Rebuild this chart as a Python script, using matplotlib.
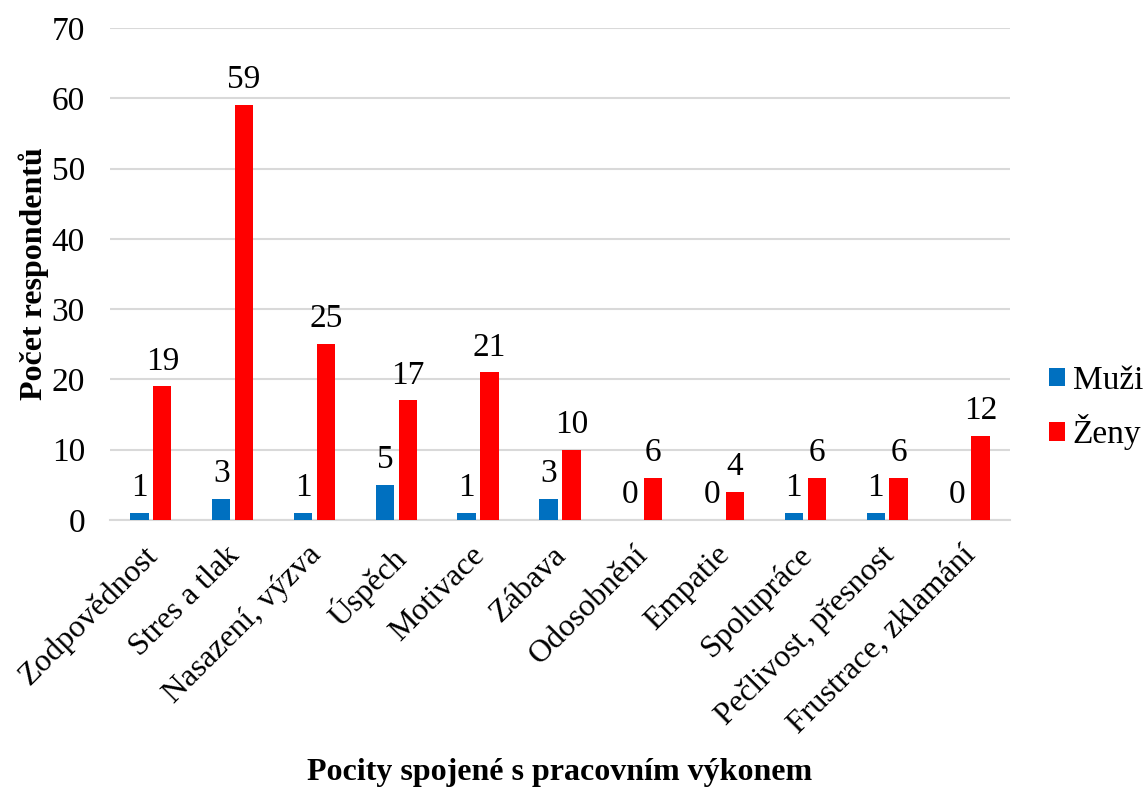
import numpy as np
import matplotlib.pyplot as plt
import matplotlib.transforms as mtransforms

plt.rcParams['font.family'] = ['Liberation Serif', 'DejaVu Serif']

categories = ['Zodpovědnost', 'Stres a tlak', 'Nasazení, výzva', 'Úspěch', 'Motivace',
              'Zábava', 'Odosobnění', 'Empatie', 'Spolupráce', 'Pečlivost, přesnost',
              'Frustrace, zklamání']
muzi = [1, 3, 1, 5, 1, 3, 0, 0, 1, 1, 0]
zeny = [19, 59, 25, 17, 21, 10, 6, 4, 6, 6, 12]

fig = plt.figure(figsize=(11.45, 7.89), dpi=100)
ax = fig.add_axes([0.096, 0.341, 0.786, 0.6235])

x = np.arange(len(categories))
w = 0.225
off = 0.14
b1 = ax.bar(x - off, muzi, w, color='#0070C0', label='Muži', zorder=3)
b2 = ax.bar(x + off, zeny, w, color='#FF0000', label='Ženy', zorder=3)

# value labels above each bar
for bars, vals in ((b1, muzi), (b2, zeny)):
    for r, v in zip(bars, vals):
        ax.text(r.get_x() + r.get_width() / 2, v + 2.4, str(v), ha='center',
                va='baseline', fontsize=24)

ax.set_xlim(-0.5, len(categories) - 0.5)
ax.set_ylim(0, 70)
ax.set_yticks(range(0, 71, 10))
ax.yaxis.grid(True, color='#d9d9d9', linewidth=1.5, zorder=0)
ax.set_axisbelow(True)
for s in ['top', 'right', 'left']:
    ax.spines[s].set_visible(False)
ax.spines['bottom'].set_color('#d9d9d9')
ax.spines['bottom'].set_linewidth(1.5)
ax.tick_params(axis='both', length=0)
ax.tick_params(axis='y', labelsize=24, pad=18)
ax.tick_params(axis='x', labelsize=23, pad=4)
ax.set_xticks(x)
ax.set_xticklabels(categories, rotation=45, ha='right', rotation_mode='anchor')
shift = mtransforms.ScaledTranslation(-0.08, -0.15, fig.dpi_scale_trans)
for lbl in ax.get_xticklabels():
    lbl.set_transform(lbl.get_transform() + shift)

ax.set_ylabel('Počet respondentů', fontsize=23, fontweight='bold', labelpad=2)
ax.set_xlabel('Pocity spojené s pracovním výkonem', fontsize=23, fontweight='bold',
              va='center')
ax.xaxis.set_label_coords(0.5, -0.514)

ax.legend(loc='center left', bbox_to_anchor=(1.043, 0.228), frameon=False, fontsize=24,
          borderaxespad=0, borderpad=0, handlelength=0.48, handleheight=0.48,
          handletextpad=0.24, labelspacing=0.55)

fig.savefig('out.png', dpi=100)
